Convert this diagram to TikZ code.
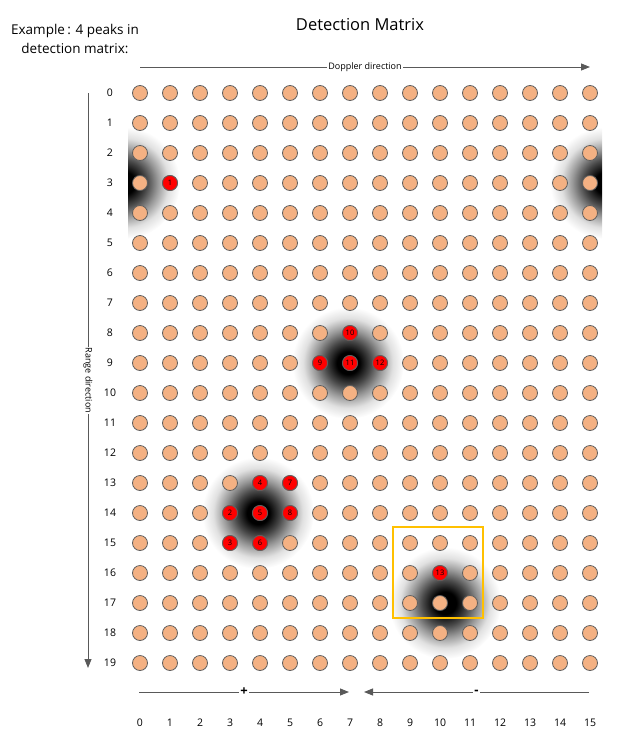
\documentclass[tikz,border=0pt]{standalone}
\usepackage{fontspec}
\setmainfont{Open Sans}
\usepackage{tikz}
\usetikzlibrary{calc, positioning, arrows.meta}
\definecolor{peach}{RGB}{244,177,131}
\definecolor{rimgray}{RGB}{95,95,95}
\definecolor{arrowgray}{RGB}{89,89,89}
\definecolor{boxyellow}{RGB}{255,192,0}
\pgfdeclareradialshading{peakglow}{\pgfpoint{0bp}{0bp}}{color(0bp)=(black); color(5bp)=(black); color(10bp)=(black!72); color(15bp)=(black!40); color(20bp)=(black!12); color(25bp)=(white); color(50bp)=(white)}
\newcommand\peakglow[2]{\shade[shading=peakglow] (#1,#2) circle (56);}
\tikzset{
  cell/.style={circle, draw=rimgray, line width=0.8pt, fill=peach, minimum size=15, inner sep=0pt},
  hit/.style={cell, fill=red, font=\fontsize{7.5}{8}\selectfont},
  axisnum/.style={font=\fontsize{10.5}{12}\selectfont},
  dirarrow/.style={draw=arrowgray, line width=0.9pt, -{Triangle[length=9pt, width=7pt]}},
  dirlabel/.style={fill=white, inner sep=1pt, font=\fontsize{9}{10}\selectfont},
  window/.style={draw=boxyellow, line width=2pt}
}

\begin{document}
\begin{tikzpicture}[x=1pt, y=-1pt]
	\useasboundingbox (0,0) rectangle (625,750);
	% headings
	\node[font=\fontsize{16.5}{18}\selectfont] (title) at (360,25) {Detection Matrix};
	\node[align=center, font=\fontsize{13.5}{19}\selectfont] (note) at (75,39) {Example\,: 4 peaks in\\ detection matrix:};
	% peak shadows, the first one wraps round in Doppler
	\begin{scope}
		\clip (128,120) rectangle (602,250);
		\peakglow{124}{183}
		\peakglow{606}{183}
	\end{scope}
	\peakglow{348}{363}
	\peakglow{258}{513}
	\peakglow{445}{603}
	% grid of cells
	\foreach \i in {0,...,15}
		\foreach \j in {0,...,19}
			\node[cell] (c-\i-\j) at (140+30*\i, 93+30*\j) {};
	\foreach \i/\j/\n in {1/3/1, 3/14/2, 3/15/3, 4/13/4, 4/14/5, 4/15/6, 5/13/7, 5/14/8, 6/9/9, 7/8/10, 7/9/11, 8/9/12, 10/16/13}
		\node[hit] (h-\n) at (c-\i-\j) {\n};
	% axis numbers
	\foreach \j in {0,...,19}
		\node[axisnum] (r-\j) at (110, 93+30*\j) {\j};
	\foreach \i in {0,...,15}
		\node[axisnum] (k-\i) at (140+30*\i, 723) {\i};
	% directions
	\coordinate (dopL) at (140,67);
	\coordinate (dopR) at (590,67);
	\draw[dirarrow] (dopL) -- node[dirlabel] (doplab) {Doppler direction} (dopR);
	\coordinate (rngT) at (88,93);
	\coordinate (rngB) at (88,668);
	\draw[dirarrow] (rngT) -- node[dirlabel, rotate=-90, pos=0.5] (rnglab) {Range direction} (rngB);
	\coordinate (posL) at (139,692);
	\coordinate (posR) at (349,692);
	\draw[dirarrow] (posL) -- node[fill=white, inner sep=1pt, font=\fontsize{13}{14}\selectfont\bfseries] (plus) {+} (posR);
	\coordinate (negR) at (589,692);
	\coordinate (negL) at (364,692);
	\draw[dirarrow] (negR) -- node[fill=white, inner sep=1pt, font=\fontsize{13}{14}\selectfont\bfseries] (minus) {-} (negL);
	% search window
	\draw[window] ($(c-9-15)+(-17,-16)$) rectangle ($(c-11-17)+(13,15)$);
\end{tikzpicture}
\end{document}
